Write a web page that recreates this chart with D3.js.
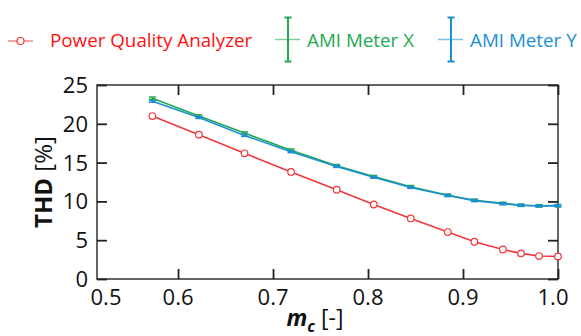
<!DOCTYPE html>
<html>
<head>
<meta charset="utf-8">
<script src="https://cdn.jsdelivr.net/npm/d3@7"></script>
<style>
  body { margin: 0; background: #fff; }
  text { font-family: "Open Sans", sans-serif; }
</style>
</head>
<body>
<div id="chart"></div>
<script>
// data
const mc = [0.573, 0.622, 0.670, 0.719, 0.767, 0.806, 0.845, 0.884, 0.912, 0.942, 0.961, 0.980, 1.000];
const pqa = [21.0, 18.6, 16.2, 13.8, 11.5, 9.6, 7.8, 6.05, 4.8, 3.8, 3.3, 2.96, 2.9];
const amiX = [23.3, 21.0, 18.8, 16.6, 14.6, 13.2, 11.9, 10.8, 10.15, 9.75, 9.5, 9.43, 9.45];
const amiY = [22.9, 20.8, 18.5, 16.4, 14.5, 13.1, 11.8, 10.75, 10.1, 9.7, 9.5, 9.4, 9.45];
const errX = [0.15, 0.15, 0.15, 0.15, 0.15, 0.15, 0.15, 0.15, 0.15, 0.15, 0.15, 0.15, 0.15];
const errY = [0.12, 0.12, 0.12, 0.12, 0.12, 0.12, 0.12, 0.12, 0.12, 0.12, 0.12, 0.12, 0.12];
const xTickLabels = [0.5, 0.6, 0.7, 0.8, 0.9, 1.0];
const yTicks = [0, 5, 10, 15, 20, 25];

const width = 581;
const height = 336;
const plot = { left: 97, right: 558, top: 85, bottom: 279 };

const red = "#f0383c", green = "#22a852", blue = "#1b8fd3";

const svg = d3.select("#chart")
    .append("svg")
    .attr("width", width)
    .attr("height", height);

const x = d3.scaleLinear().domain([0.5147, 1.0]).range([plot.left, plot.right]);
const y = d3.scaleLinear().domain([0, 25]).range([plot.bottom, plot.top]);

// frame
svg.append("rect")
    .attr("x", plot.left).attr("y", plot.top)
    .attr("width", plot.right - plot.left).attr("height", plot.bottom - plot.top)
    .attr("fill", "none").attr("stroke", "#333").attr("stroke-width", 1.5);

// inner ticks
const xTickVals = [0.6, 0.7, 0.8, 0.9, 1.0];
const tickLen = 10;
const axisStyle = g => {
    g.select(".domain").remove();
    g.selectAll(".tick line").attr("stroke", "#222").attr("stroke-width", 1.8);
    g.selectAll(".tick text").remove();
};
svg.append("g").attr("transform", `translate(0,${plot.bottom})`)
    .call(d3.axisBottom(x).tickValues(xTickVals).tickSizeInner(-tickLen).tickSizeOuter(0)).call(axisStyle);
svg.append("g").attr("transform", `translate(0,${plot.top})`)
    .call(d3.axisTop(x).tickValues(xTickVals).tickSizeInner(-tickLen).tickSizeOuter(0)).call(axisStyle);
svg.append("g").attr("transform", `translate(${plot.left},0)`)
    .call(d3.axisLeft(y).tickValues(yTicks).tickSizeInner(-tickLen).tickSizeOuter(0)).call(axisStyle);
svg.append("g").attr("transform", `translate(${plot.right},0)`)
    .call(d3.axisRight(y).tickValues(yTicks).tickSizeInner(-tickLen).tickSizeOuter(0)).call(axisStyle);

// tick labels
svg.selectAll(".xlab")
    .data(xTickLabels)
    .join("text")
    .attr("x", d => Math.min(Math.max(x(d), plot.left + 9), plot.right - 5))
    .attr("y", 305)
    .attr("text-anchor", "middle")
    .style("font-size", "22px")
    .attr("fill", "#111")
    .text(d => d.toFixed(1));

svg.selectAll(".ylab")
    .data(yTicks)
    .join("text")
    .attr("x", plot.left - 9)
    .attr("y", d => y(d) + 8)
    .attr("text-anchor", "end")
    .style("font-size", "22px")
    .attr("fill", "#111")
    .text(d => d);

// axis titles
const yt = svg.append("text")
    .attr("transform", `translate(52,${(plot.top + plot.bottom) / 2}) rotate(-90)`)
    .attr("text-anchor", "middle")
    .style("font-size", "24px")
    .attr("fill", "#111");
yt.append("tspan").attr("font-weight", "bold").text("THD");
yt.append("tspan").text(" [%]");

const xt = svg.append("text")
    .attr("x", 315).attr("y", 326)
    .attr("text-anchor", "middle")
    .style("font-size", "23px")
    .attr("fill", "#111");
xt.append("tspan").attr("font-weight", "bold").attr("font-style", "italic").text("m");
xt.append("tspan").attr("font-weight", "bold").attr("font-style", "italic")
    .attr("dy", 6).style("font-size", "16px").text("c");
xt.append("tspan").attr("dy", -6).text(" [-]");

// series
const line = d3.line().x(d => x(d[0])).y(d => y(d[1]));
const series = [
    { name: "AMI Meter X", vals: amiX, err: errX, color: green },
    { name: "AMI Meter Y", vals: amiY, err: errY, color: blue }
];

series.forEach(s => {
    const pts = mc.map((m, i) => [m, s.vals[i], s.err[i]]);
    svg.append("path")
        .attr("d", line(pts))
        .attr("fill", "none")
        .attr("stroke", s.color)
        .attr("stroke-width", 1.6);
    const eb = svg.append("g").selectAll("g").data(pts).join("g").attr("stroke", s.color).attr("stroke-width", 1.5);
    eb.append("line")
        .attr("x1", d => x(d[0])).attr("x2", d => x(d[0]))
        .attr("y1", d => y(d[1] - d[2])).attr("y2", d => y(d[1] + d[2]));
    eb.append("line")
        .attr("x1", d => x(d[0]) - 3.5).attr("x2", d => x(d[0]) + 3.5)
        .attr("y1", d => y(d[1] - d[2])).attr("y2", d => y(d[1] - d[2]));
    eb.append("line")
        .attr("x1", d => x(d[0]) - 3.5).attr("x2", d => x(d[0]) + 3.5)
        .attr("y1", d => y(d[1] + d[2])).attr("y2", d => y(d[1] + d[2]));
});

const pqaPts = mc.map((m, i) => [m, pqa[i]]);
svg.append("path")
    .attr("d", line(pqaPts))
    .attr("fill", "none")
    .attr("stroke", red)
    .attr("stroke-width", 1.6);
svg.selectAll(".pqa")
    .data(pqaPts)
    .join("circle")
    .attr("cx", d => x(d[0])).attr("cy", d => y(d[1]))
    .attr("r", 3.3)
    .attr("fill", "#fff")
    .attr("stroke", red)
    .attr("stroke-width", 1.2);

// legend
const leg = svg.append("g");
leg.append("line").attr("x1", 8).attr("x2", 33).attr("y1", 41).attr("y2", 41)
    .attr("stroke", "#f4878a").attr("stroke-width", 1.5);
leg.append("circle").attr("cx", 20.5).attr("cy", 41).attr("r", 3.5)
    .attr("fill", "#fff").attr("stroke", red).attr("stroke-width", 1.2);
leg.append("text").attr("x", 50).attr("y", 47).style("font-size", "18.8px")
    .attr("fill", "#ff1010").text("Power Quality Analyzer");

const legErr = [
    { name: series[0].name, cx: 288, color: green, light: "#7ccf9b", tx: 307 },
    { name: series[1].name, cx: 451, color: blue, light: "#78bfe8", tx: 470 }
];
legErr.forEach(l => {
    leg.append("line").attr("x1", l.cx - 13).attr("x2", l.cx + 12).attr("y1", 39.5).attr("y2", 39.5)
        .attr("stroke", l.light).attr("stroke-width", 1.5);
    leg.append("line").attr("x1", l.cx).attr("x2", l.cx).attr("y1", 17.5).attr("y2", 61.5)
        .attr("stroke", l.color).attr("stroke-width", 2);
    leg.append("line").attr("x1", l.cx - 3.5).attr("x2", l.cx + 3.5).attr("y1", 17.5).attr("y2", 17.5)
        .attr("stroke", l.color).attr("stroke-width", 2);
    leg.append("line").attr("x1", l.cx - 3.5).attr("x2", l.cx + 3.5).attr("y1", 61.5).attr("y2", 61.5)
        .attr("stroke", l.color).attr("stroke-width", 2);
    leg.append("text").attr("x", l.tx).attr("y", 47).style("font-size", "18.8px")
        .attr("fill", l.color).text(l.name);
});
</script>
</body>
</html>
